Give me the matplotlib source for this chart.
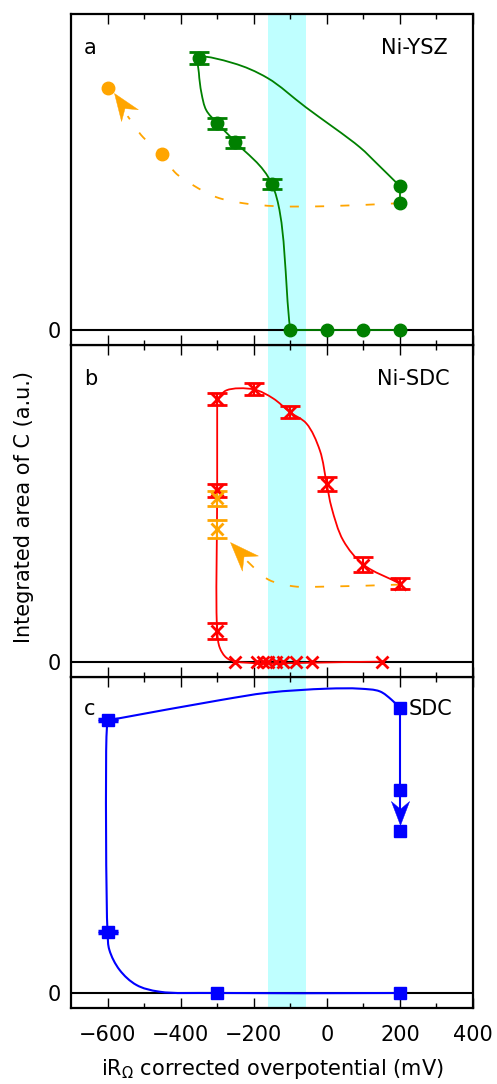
import numpy as np
import matplotlib
matplotlib.use("Agg")
import matplotlib.pyplot as plt
from matplotlib.path import Path
from matplotlib.patches import PathPatch
from matplotlib.markers import MarkerStyle
from matplotlib.transforms import Affine2D

# ---------------- data (x: mV, y: a.u.) ----------------
# Panel a : Ni-YSZ
ysz_err_x = [-350, -300, -250, -150]
ysz_err_y = [2.72, 2.07, 1.88, 1.46]
ysz_err_e = [0.06, 0.055, 0.055, 0.05]
ysz_pt_x = [200, 200, -100, 0, 100, 200]
ysz_pt_y = [1.44, 1.27, 0, 0, 0, 0]
ysz_or_x = [-600, -450]
ysz_or_y = [2.42, 1.76]
ysz_guide_x = [200, 136, 90, -58, -162, -257, -350, -350, -343, -330, -300, -250, -150, -100]
ysz_guide_y = [1.44, 1.67, 1.83, 2.23, 2.52, 2.67, 2.72, 2.57, 2.37, 2.20, 2.07, 1.88, 1.46, 0.0]
ysz_flat_x = [-100, 200]
ysz_flat_y = [0, 0]
ysz_link_x = [200, 200]
ysz_link_y = [1.44, 1.27]
ysz_dash_x = [200, 0, -138, -229, -302, -366, -416, -448, -503, -545]
ysz_dash_y = [1.27, 1.24, 1.24, 1.27, 1.33, 1.45, 1.58, 1.76, 1.93, 2.14]
ysz_arrow_tip = (-581, 2.37)
ysz_arrow_from = (-536, 2.135)

# Panel b : Ni-SDC
nisdc_err_x = [-300, -200, -100, 0, 100, 200, -300, -300]
nisdc_err_y = [2.62, 2.72, 2.49, 1.77, 0.97, 0.78, 1.71, 0.31]
nisdc_err_e = [0.06, 0.06, 0.06, 0.07, 0.075, 0.055, 0.067, 0.08]
nisdc_zero_x = [-250, -190, -175, -160, -140, -120, -85, -40, 150]
nisdc_zero_y = [0, 0, 0, 0, 0, 0, 0, 0, 0]
nisdc_or_x = [-300, -300]
nisdc_or_y = [1.63, 1.325]
nisdc_or_e = [0.075, 0.09]
nisdc_guide1_x = [200, 100, 45, 13, 0, -19, -56, -100, -147, -200, -275, -300]
nisdc_guide1_y = [0.78, 0.97, 1.21, 1.54, 1.77, 2.11, 2.38, 2.49, 2.63, 2.72, 2.71, 2.62]
nisdc_guide2_x = [-300, -300, -300, -293, -275, -247, 150]
nisdc_guide2_y = [2.62, 1.71, 0.31, 0.14, 0.04, 0.0, 0.0]
nisdc_dash_x = [200, 0, -92, -160, -211, -225]
nisdc_dash_y = [0.77, 0.75, 0.753, 0.82, 0.98, 1.03]
nisdc_arrow_tip = (-266, 1.193)
nisdc_arrow_from = (-207, 0.965)

# Panel c : SDC
sdc_err_x = [-600, -600]
sdc_err_y = [2.723, 0.607]
sdc_err_e = [0.01, 0.01]
sdc_pt_x = [200, 200, 200, -300, 200]
sdc_pt_y = [2.847, 2.03, 1.623, 0, 0]
sdc_guide1_x = [200, -300, -458, -521, -567, -595, -600, -603, -600]
sdc_guide1_y = [0.0, 0.0, 0.013, 0.08, 0.23, 0.43, 0.607, 2.56, 2.723]
sdc_guide2_x = [-600, -293, -161, 0, 90, 145, 177, 200]
sdc_guide2_y = [2.723, 2.925, 3.00, 3.04, 3.04, 3.013, 2.93, 2.847]
sdc_guide3_x = [200, 200, 200]
sdc_guide3_y = [2.847, 2.03, 1.78]
sdc_arrow_tip = (200, 1.68)
sdc_arrow_from = (200, 1.95)

band_x = (-160, -58)
xmajor = [-600, -400, -200, 0, 200, 400]

GREEN, ORANGE, RED, BLUE = "#008000", "#FFA500", "#FF0000", "#0000FF"


def smooth_path(ax, xs, ys, alpha=0.5):
    """Centripetal Catmull-Rom through the points, built in display space."""
    P = ax.transData.transform(np.column_stack([xs, ys]).astype(float))
    n = len(P)
    ext = np.vstack([2 * P[0] - P[1], P, 2 * P[-1] - P[-2]])
    verts = [P[0]]
    codes = [Path.MOVETO]
    for i in range(n - 1):
        p0, p1, p2, p3 = ext[i], ext[i + 1], ext[i + 2], ext[i + 3]
        d01 = max(np.linalg.norm(p1 - p0) ** alpha, 1e-6)
        d12 = max(np.linalg.norm(p2 - p1) ** alpha, 1e-6)
        d23 = max(np.linalg.norm(p3 - p2) ** alpha, 1e-6)
        m1 = (p2 - p1) + d12 * ((p1 - p0) / d01 - (p2 - p0) / (d01 + d12))
        m2 = (p2 - p1) + d12 * ((p3 - p2) / d23 - (p3 - p1) / (d12 + d23))
        verts += [p1 + m1 / 3.0, p2 - m2 / 3.0, p2]
        codes += [Path.CURVE4] * 3
    verts = ax.transData.inverted().transform(np.array(verts))
    return Path(verts, codes)


def draw_curve(ax, xs, ys, color, lw=1.3, ls="-"):
    ax.add_patch(PathPatch(smooth_path(ax, xs, ys), fill=False, ec=color, lw=lw,
                           ls=ls, zorder=2, capstyle="butt"))


def arrow_head(ax, tip, frm, length_px, color):
    p1 = ax.transData.transform(frm)
    p2 = ax.transData.transform(tip)
    ang = np.degrees(np.arctan2(p2[1] - p1[1], p2[0] - p1[0]))
    verts = [(0, 0), (-1, 0.38), (-0.68, 0), (-1, -0.38), (0, 0)]
    codes = [Path.MOVETO, Path.LINETO, Path.LINETO, Path.LINETO, Path.CLOSEPOLY]
    m = MarkerStyle(Path(verts, codes), transform=Affine2D().rotate_deg(ang))
    ax.plot([tip[0]], [tip[1]], marker=m, ms=2 * length_px * 0.72, color=color,
            mec=color, mew=0.3, ls="none", zorder=4)


fig = plt.figure(figsize=(4.97, 10.84), dpi=100)
L, W = 71 / 497, 402 / 497
H = 331.33 / 1084
B0 = 1 - 1008 / 1084
ax_c = fig.add_axes([L, B0, W, H])
ax_b = fig.add_axes([L, B0 + H, W, H])
ax_a = fig.add_axes([L, B0 + 2 * H, W, H])

for ax in (ax_a, ax_b, ax_c):
    ax.set_xlim(-700, 400)
    ax.set_ylim(-0.15, 3.16)
    ax.axvspan(band_x[0], band_x[1], color="cyan", alpha=0.25, lw=0, zorder=0)
    ax.axhline(0, color="black", lw=1.5, zorder=1.5)
    ax.set_xticks(xmajor)
    ax.set_xticks([-500, -300, -100, 100, 300], minor=True)
    ax.tick_params(axis="x", which="major", direction="in", length=7, width=1,
                   top=True, bottom=True, labelsize=15, pad=12)
    ax.tick_params(axis="x", which="minor", direction="in", length=3.5, width=1,
                   top=True, bottom=True)
    ax.set_yticks([0])
    ax.tick_params(axis="y", length=0, pad=7, labelsize=15)
    for s in ax.spines.values():
        s.set_linewidth(1.6)

ax_a.tick_params(axis="x", labelbottom=False)
ax_b.tick_params(axis="x", labelbottom=False)
ax_c.set_xticklabels(["\u2212600", "\u2212400", "\u2212200", "0", "200", "400"])

# ---- panel a ----
draw_curve(ax_a, ysz_guide_x, ysz_guide_y, GREEN)
ax_a.plot(ysz_flat_x, ysz_flat_y, color=GREEN, lw=1.3, zorder=2)
ax_a.plot(ysz_link_x, ysz_link_y, color=GREEN, lw=1.3, zorder=2)
draw_curve(ax_a, ysz_dash_x, ysz_dash_y, ORANGE, lw=1.3, ls=(0, (5, 9)))
ax_a.errorbar(ysz_err_x, ysz_err_y, yerr=ysz_err_e, fmt="o", color=GREEN, ms=9,
              capsize=7, capthick=2, elinewidth=1.5, zorder=3)
ax_a.plot(ysz_pt_x, ysz_pt_y, "o", color=GREEN, ms=9, zorder=3)
ax_a.plot(ysz_or_x, ysz_or_y, "o", color=ORANGE, ms=9, zorder=3)
arrow_head(ax_a, ysz_arrow_tip, ysz_arrow_from, 27, ORANGE)
ax_a.text(0.032, 0.879, "a", transform=ax_a.transAxes, fontsize=15, va="baseline", ha="left")
ax_a.text(0.937, 0.879, "Ni-YSZ", transform=ax_a.transAxes, fontsize=15, va="baseline", ha="right")

# ---- panel b ----
draw_curve(ax_b, nisdc_guide1_x, nisdc_guide1_y, RED)
draw_curve(ax_b, nisdc_guide2_x, nisdc_guide2_y, RED)
draw_curve(ax_b, nisdc_dash_x, nisdc_dash_y, ORANGE, lw=1.3, ls=(0, (5, 9)))
ax_b.errorbar(nisdc_err_x, nisdc_err_y, yerr=nisdc_err_e, fmt="x", color=RED, ms=8, mew=2,
              capsize=7, capthick=2, elinewidth=1.5, zorder=3)
ax_b.errorbar(nisdc_or_x, nisdc_or_y, yerr=nisdc_or_e, fmt="x", color=ORANGE, ms=8, mew=2,
              capsize=7, capthick=2, elinewidth=1.5, zorder=3)
ax_b.plot(nisdc_zero_x, nisdc_zero_y, "x", color=RED, ms=8, mew=2, zorder=3)
arrow_head(ax_b, nisdc_arrow_tip, nisdc_arrow_from, 29, ORANGE)
ax_b.text(0.032, 0.879, "b", transform=ax_b.transAxes, fontsize=15, va="baseline", ha="left")
ax_b.text(0.943, 0.879, "Ni-SDC", transform=ax_b.transAxes, fontsize=15, va="baseline", ha="right")

# ---- panel c ----
draw_curve(ax_c, sdc_guide1_x, sdc_guide1_y, BLUE, lw=1.5)
draw_curve(ax_c, sdc_guide2_x, sdc_guide2_y, BLUE, lw=1.5)
ax_c.plot(sdc_guide3_x, sdc_guide3_y, color=BLUE, lw=1.5, zorder=2)
ax_c.errorbar(sdc_err_x, sdc_err_y, yerr=sdc_err_e, fmt="s", color=BLUE, ms=8.5,
              capsize=7, capthick=2.5, elinewidth=1.5, zorder=3)
ax_c.plot(sdc_pt_x, sdc_pt_y, "s", color=BLUE, ms=8.5, zorder=3)
arrow_head(ax_c, sdc_arrow_tip, sdc_arrow_from, 24, BLUE)
ax_c.text(0.032, 0.883, "c", transform=ax_c.transAxes, fontsize=15, va="baseline", ha="left")
ax_c.text(0.841, 0.883, "SDC", transform=ax_c.transAxes, fontsize=15, va="baseline", ha="left")

ax_c.set_xlabel(r"iR$_\Omega$ corrected overpotential (mV)", fontsize=15, labelpad=9)
fig.text(24 / 497, 1 - 507 / 1084, "Integrated area of C (a.u.)", rotation=90,
         fontsize=15, ha="center", va="center")

fig.savefig("out.png", dpi=100)
